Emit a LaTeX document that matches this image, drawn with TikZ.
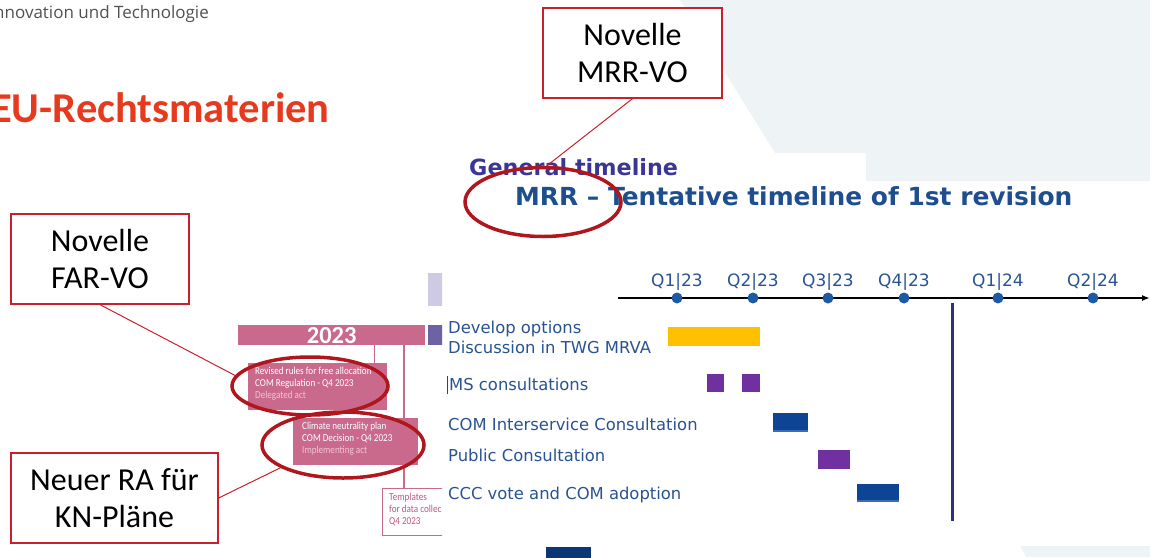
\documentclass[tikz,border=0pt]{standalone}
\usepackage{fontspec}
\setmainfont{Carlito}
\newfontfamily\slidefont{DejaVu Sans}
\newfontfamily\deptfont{Open Sans}
\newfontfamily\farfont[FakeStretch=0.86]{Carlito}
\usetikzlibrary{shapes.geometric,arrows.meta}
\definecolor{calloutred}{HTML}{C8202F}
\definecolor{ringred}{HTML}{B0161E}
\definecolor{titlered}{HTML}{E63A1E}
\definecolor{farpink}{HTML}{C96A8C}
\definecolor{farpinktext}{HTML}{C0557F}
\definecolor{farpinklight}{HTML}{F2C3D3}
\definecolor{slidepurple}{HTML}{6B63A6}
\definecolor{slidelavender}{HTML}{CFCAE3}
\definecolor{slideindigo}{HTML}{3B3595}
\definecolor{slideblue}{HTML}{1E4E8E}
\definecolor{labelblue}{HTML}{2A5291}
\definecolor{dotblue}{HTML}{1C5AA3}
\definecolor{baryellow}{HTML}{FFC000}
\definecolor{barpurple}{HTML}{7030A0}
\definecolor{barnavy}{HTML}{0D4594}
\definecolor{barnavylight}{HTML}{4C7CCB}
\definecolor{cutline}{HTML}{2E2F7E}
\definecolor{bgtint}{HTML}{EEF3F6}
\definecolor{deptgray}{HTML}{505050}
\tikzset{%
  callout/.style  = {shape=rectangle, draw=calloutred, line width=1.3pt,%
                     fill=white, align=center,%
                     font=\fontsize{32}{37}\selectfont},%
  ring/.style     = {shape=ellipse, draw=ringred, line width=3.5pt},%
  pointer/.style  = {draw=calloutred, line width=1pt},%
  farbox/.style   = {shape=rectangle, fill=farpink},%
  fartext/.style  = {align=left, text=white,%
                     font=\farfont\fontsize{10.6}{11.8}\selectfont},%
  farline/.style  = {draw=farpink, line width=1.5pt},%
  task/.style     = {text=labelblue, font=\slidefont\fontsize{16.4}{20}\selectfont},%
  quarter/.style  = {text=labelblue, font=\slidefont\fontsize{17}{20}\selectfont},%
  navyedge/.style = {fill=barnavylight!70!barnavy}%
}
\begin{document}
\begin{tikzpicture}[x=1pt,y=-1pt,
	every node/.style={inner sep=0pt}]
	\clip (0,0) rectangle (1150,557);
	\fill[bgtint] (680,0) -- (1150,0) -- (1150,181) -- (866,181)
		-- (866,153) -- (775,153) -- cycle;
	\fill[bgtint] (1020,546) -- (1150,546) -- (1150,557) -- (1026,557) -- cycle;
	\node[anchor=base east, text=deptgray, font=\deptfont\fontsize{17}{20}\selectfont]
		(dept) at (209,18) {Innovation und Technologie};
	\node[anchor=base east, text=titlered, font=\bfseries\fontsize{42.5}{46}\selectfont]
		(heading) at (330,122) {EU-Rechtsmaterien};
	% FAR timeline
	\begin{scope}
	\clip (0,0) rectangle (442,557);
	\fill[slidelavender] (428,273) rectangle (446,306);
	\fill[slidepurple] (428,325) rectangle (446,345);
	\node[farbox, anchor=north west, minimum width=187, minimum height=20,
		text=white, font=\bfseries\fontsize{24.5}{25}\selectfont] (year) at (238,325) {2023};
	\node[farbox, fill=white, draw=farpink, line width=0.8pt, anchor=north west,
		minimum width=90, minimum height=47] (farTemplates) at (382,488) {};
	\node[fartext, text=farpinktext, anchor=north west] (txtTemplates)
		at ([xshift=7pt,yshift=-5pt]farTemplates.north west)
		{Templates\\for data collec\\Q4 2023};
	\draw[farline] ([xshift=22pt]farTemplates.north west)
		-- ([xshift=22pt]farTemplates.north west |- year.south);
	\node[farbox, anchor=north west, minimum width=139, minimum height=47]
		(farRules) at (248,363) {};
	\node[fartext, anchor=north west] (txtRules)
		at ([xshift=7pt,yshift=-4pt]farRules.north west)
		{Revised rules for free allocation\\COM Regulation - Q4 2023\\%
		 \textcolor{farpinklight}{Delegated act}};
	\draw[farline] ([xshift=-13pt]farRules.north east)
		-- ([xshift=-13pt]farRules.north east |- year.south);
	\node[farbox, anchor=north west, minimum width=125, minimum height=47]
		(farClimate) at (293,418) {};
	\node[fartext, anchor=north west] (txtClimate)
		at ([xshift=9pt,yshift=-4pt]farClimate.north west)
		{Climate neutrality plan\\COM Decision - Q4 2023\\%
		 \textcolor{farpinklight}{Implementing act}};
	\end{scope}
	% MRR slide
	\node[anchor=base west, text=slideindigo,
		font=\slidefont\bfseries\fontsize{22.3}{26}\selectfont]
		(general) at (469,175) {General timeline};
	\node[anchor=base west, text=slideblue,
		font=\slidefont\bfseries\fontsize{24.9}{28}\selectfont]
		(mrrtitle) at (515,205) {MRR – Tentative timeline of 1st revision};
	\draw[line width=1.8pt, -{Latex[length=8pt,width=6pt]}] (618,298) -- (1150,298);
	\foreach \qx/\qname [count=\qi] in {677/Q1|23, 753/Q2|23, 828/Q3|23,
		904/Q4|23, 998/Q1|24, 1093/Q2|24}{
		\fill[dotblue] (\qx,298) circle[radius=5.5pt];
		\node[quarter, anchor=base] (q\qi) at (\qx,286) {\qname};
	}
	\draw[cutline, line width=3pt] (952,303) -- (952,521);
	\node[task, anchor=base west] (develop) at (448,333) {Develop options};
	\node[task, anchor=base west] (twg) at (448,353) {Discussion in TWG MRVA};
	\draw[black!75, line width=0.7pt] (447.5,376) -- (447.5,394);
	\node[task, anchor=base west] (ms) at (449,390) {MS consultations};
	\node[task, anchor=base west] (isc) at (448,430) {COM Interservice Consultation};
	\node[task, anchor=base west] (public) at (448,461) {Public Consultation};
	\node[task, anchor=base west] (ccc) at (448,499) {CCC vote and COM adoption};
	\fill[baryellow] (668,327) rectangle (760,346);
	\fill[barpurple] (707,374) rectangle (724,392);
	\fill[barpurple] (742,374) rectangle (760,392);
	\fill[barnavy] (773,413) rectangle (808,432);
	\fill[navyedge] (773,429.5) rectangle (808,432);
	\fill[barpurple] (818,450) rectangle (850,469);
	\fill[barnavy] (857,484) rectangle (899,502);
	\fill[navyedge] (857,499.5) rectangle (899,502);
	\fill[barnavy!80!black] (546,547) rectangle (591,560);
	% callouts
	\node[callout, minimum width=179, minimum height=90] (boxMRR)
		at (632.5,53) {Novelle\\MRR-VO};
	\node[callout, minimum width=178, minimum height=90] (boxFAR)
		at (100,259) {Novelle\\FAR-VO};
	\node[callout, minimum width=207, minimum height=90] (boxKN)
		at (114.5,498) {Neuer RA für\\KN-Pläne};
	\node[ring, minimum width=156, minimum height=69] (ringMRR) at (543,202) {};
	\node[ring, minimum width=156, minimum height=58] (ringRules) at (310,386) {};
	\node[ring, minimum width=162, minimum height=66] (ringClimate) at (343,445) {};
	\draw[pointer] (boxMRR.south) -- (ringMRR.84);
	\draw[pointer] (boxFAR.south) -- (ringRules.172);
	\draw[pointer] (boxKN.east) -- (ringClimate.200);
\end{tikzpicture}
\end{document}
